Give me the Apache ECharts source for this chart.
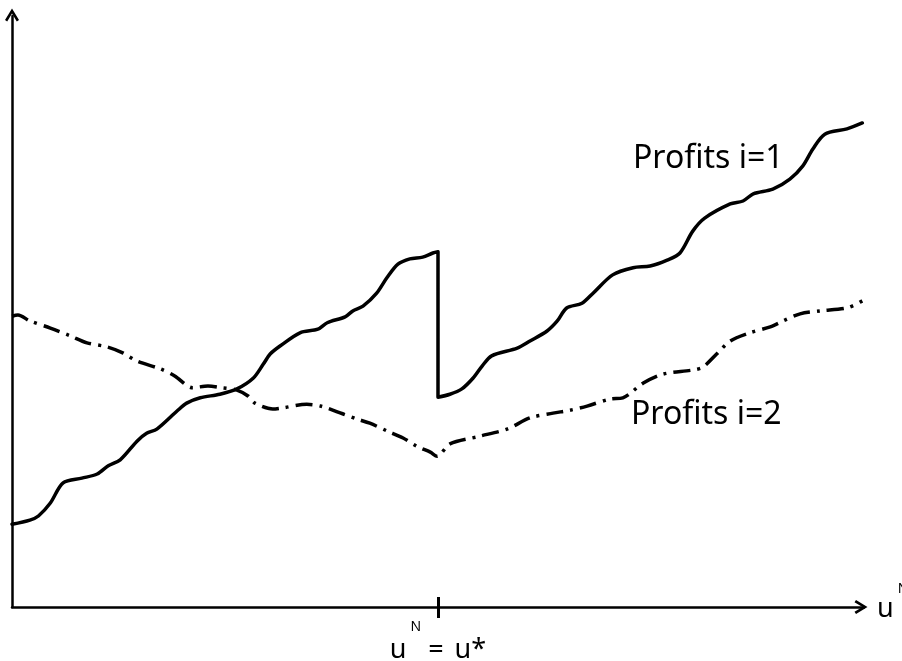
<!DOCTYPE html>
<html>
<head>
<meta charset="utf-8">
<script src="https://cdn.jsdelivr.net/npm/echarts@6/dist/echarts.min.js"></script>
<style>
html,body{margin:0;padding:0;background:#fff;}
#chart{width:902px;height:661px;}
</style>
</head>
<body>
<div id="chart"></div>
<script>
// ---- data (abstract units: x 0..100, y 0..100) ----
var profits1X = [0,2.1,3.1,4.5,6.0,8.2,10.0,11.3,12.7,14.7,15.8,17.0,19.4,20.5,22.1,24.4,26.4,28.3,29.5,30.3,31.5,33.8,35.9,37.0,39.1,40.0,41.2,42.8,44.0,45.3,46.7,48.2,49.4,50.0,50.0,51.4,52.8,54.1,55.2,56.3,59.3,60.8,62.8,64.0,65.1,66.9,68.2,70.5,72.9,74.9,76.9,78.4,79.9,81.3,84.3,85.8,87.0,89.3,91.3,92.8,94.0,95.4,98.0,99.8];
var profits1Y = [14.0,14.7,15.4,17.6,21.0,21.8,22.5,23.9,24.9,28.1,29.4,30.1,33.2,34.5,35.4,36.0,36.9,38.7,41.1,42.8,44.2,46.4,47.0,48.1,49.1,50.1,50.9,53.1,55.7,58.0,58.9,59.2,59.9,60.1,35.5,36.0,36.9,38.7,40.8,42.5,43.8,45.0,46.7,48.4,50.6,51.4,53.1,56.2,57.4,57.7,58.7,59.9,63.6,65.8,68.2,68.7,69.9,70.7,72.4,74.6,77.5,80.0,80.9,81.9];
var profits2X = [0,0.7,2.1,4.5,6.8,8.8,11.2,13.0,14.7,17.4,19.1,21.2,23.0,24.6,26.4,27.7,28.5,30.6,31.8,34.6,36.2,38.8,40.5,42.0,44.0,45.9,47.5,49.1,49.9,51.4,54.9,58.1,60.8,63.5,65.5,67.5,70.2,71.7,74.1,76.4,79.9,81.1,82.7,84.3,86.6,89.0,90.5,92.5,94.8,98.0,99.8];
var profits2Y = [49.2,49.4,48.4,47.2,45.9,44.7,44.0,43.0,41.6,40.3,39.1,37.1,37.4,37.1,36.7,35.7,34.5,33.5,33.7,34.3,34.0,32.7,31.8,31.1,29.8,28.6,27.2,26.2,25.5,27.6,28.9,30.1,32.0,32.8,33.3,34.0,35.2,35.4,37.9,39.4,40.1,40.6,42.8,45.0,46.4,47.4,48.4,49.6,50.1,50.6,51.8];
var seriesNames = ['Profits i=1', 'Profits i=2'];
var tickValues = [50];

function pairs(xs, ys) { return xs.map(function (x, i) { return [x, ys[i]]; }); }

var FONT = 'Noto Sans';
var arrow = 'path://M7,0 L14,11.5 L11.8,13 L7,5 L2.2,13 L0,11.5 Z';
var chart = echarts.init(document.getElementById('chart'), null, {renderer: 'canvas'});

chart.setOption({
  animation: false,
  backgroundColor: '#ffffff',
  grid: {left: 12, right: 38, top: 16, bottom: 54, containLabel: false, outerBoundsMode: 'none'},
  xAxis: [{
    type: 'value', min: 0, max: 100, position: 'bottom',
    axisLine: {show: true, onZero: false, symbol: ['none', arrow], symbolSize: [14, 14], symbolOffset: [0, -3],
      lineStyle: {color: '#000', width: 2.5}},
    axisTick: {show: true, customValues: tickValues, length: 11, lineStyle: {color: '#000', width: 3}},
    axisLabel: {show: true, customValues: tickValues, margin: 13,
      formatter: function () { return '{u|u}{n|N}{e| = }{u|u*}'; },
      rich: {
        u: {fontFamily: FONT, fontSize: 27, color: '#000'},
        e: {fontFamily: FONT, fontSize: 27, color: '#000', padding: [0, 4, 0, 0]},
        n: {fontFamily: FONT, fontSize: 14, color: '#000', padding: [0, 0, 46, 4]}
      }},
    splitLine: {show: false},
    name: '{u|u}{n|N}', nameLocation: 'end', nameGap: 13,
    nameTextStyle: {
      rich: {
        u: {fontFamily: FONT, fontSize: 27, color: '#000', padding: [4, 0, 0, 0]},
        n: {fontFamily: FONT, fontSize: 14, color: '#000', padding: [0, 0, 36, 4]}
      }
    }
  }, {
    type: 'value', min: 0, max: 100, position: 'bottom',
    axisLine: {show: false},
    axisTick: {show: true, inside: true, customValues: tickValues, length: 10, lineStyle: {color: '#000', width: 3}},
    axisLabel: {show: false},
    splitLine: {show: false}
  }],
  yAxis: {
    type: 'value', min: 0, max: 100,
    axisLine: {show: true, onZero: false, symbol: ['none', arrow], symbolSize: [14, 14], symbolOffset: [0, 1],
      lineStyle: {color: '#000', width: 2.5}},
    axisTick: {show: false},
    axisLabel: {show: false},
    splitLine: {show: false}
  },
  series: [{
    name: seriesNames[0], type: 'line', xAxisIndex: 0, showSymbol: false, smooth: 0.3,
    data: pairs(profits1X, profits1Y),
    lineStyle: {color: '#000', width: 3.5, join: 'round', cap: 'round'}
  }, {
    name: seriesNames[1], type: 'line', xAxisIndex: 0, showSymbol: false, smooth: 0.3,
    data: pairs(profits2X, profits2Y),
    lineStyle: {color: '#000', width: 3.5, type: [17, 7, 3, 7], join: 'round'}
  }],
  graphic: [
    {type: 'text', left: 633, top: 143, style: {text: seriesNames[0], font: '32px "Noto Sans"', fill: '#000'}},
    {type: 'text', left: 631, top: 399, style: {text: seriesNames[1], font: '32px "Noto Sans"', fill: '#000'}}
  ]
});
</script>
</body>
</html>
